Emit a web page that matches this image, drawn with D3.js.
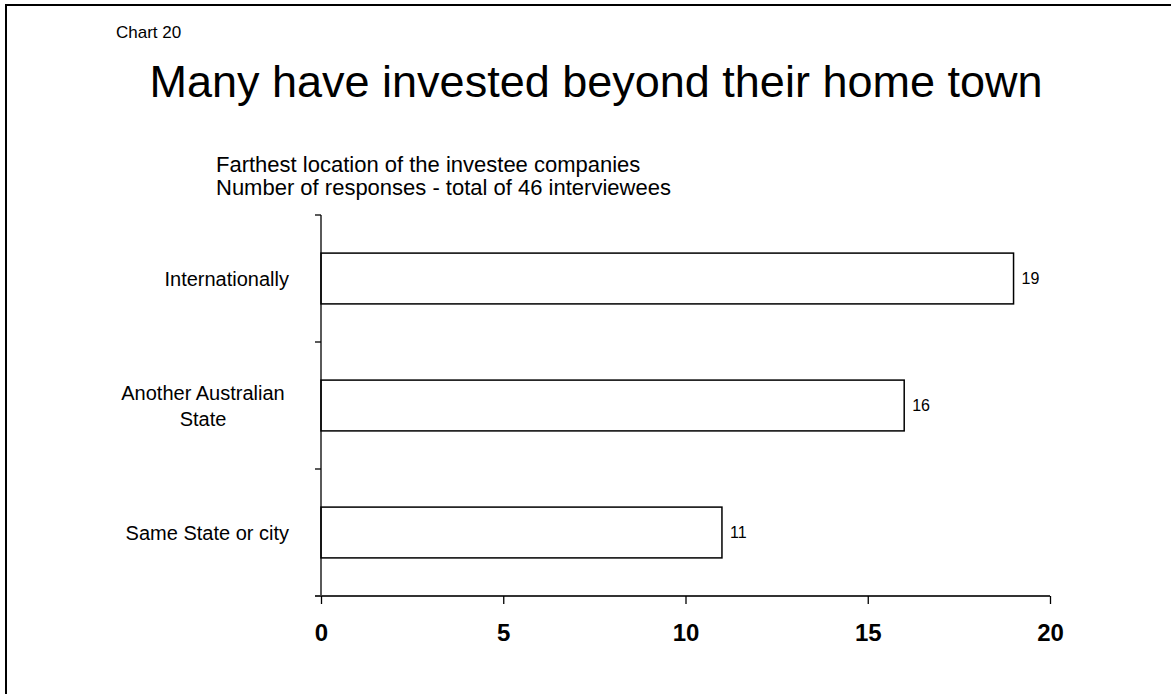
<!DOCTYPE html>
<html>
<head>
<meta charset="utf-8">
<script src="https://cdn.jsdelivr.net/npm/d3@7"></script>
<style>
  html, body { margin: 0; padding: 0; background: #fff; }
  svg { display: block; font-family: "Liberation Sans", Arial, sans-serif; }
</style>
</head>
<body>
<svg id="chart" width="1171" height="694"></svg>
<script>
// Farthest location of investee companies (number of responses)
const categories = ["Internationally", "Another Australian State", "Same State or city"];
const categoryLines = [["Internationally"], ["Another Australian", "State"], ["Same State or city"]];
const responses = [19, 16, 11];
const xTicks = [0, 5, 10, 15, 20];

const svg = d3.select("#chart");
const W = 1171, H = 694;

// Page frame (top and left edges visible)
svg.append("rect")
  .attr("x", 6).attr("y", 5)
  .attr("width", W + 10).attr("height", H + 10)
  .attr("fill", "none").attr("stroke", "#000").attr("stroke-width", 2);

svg.append("text")
  .attr("x", 116).attr("y", 38)
  .attr("font-size", 17)
  .text("Chart 20");

svg.append("text")
  .attr("x", 596).attr("y", 97)
  .attr("text-anchor", "middle")
  .attr("font-size", 45)
  .text("Many have invested beyond their home town");

svg.append("text")
  .attr("x", 216).attr("y", 172)
  .attr("font-size", 22)
  .text("Farthest location of the investee companies");
svg.append("text")
  .attr("x", 216).attr("y", 195)
  .attr("font-size", 22)
  .text("Number of responses - total of 46 interviewees");

const x = d3.scaleLinear().domain([0, 20]).range([321, 1050]);
const y = d3.scaleBand().domain(categories).range([215, 596]).paddingInner(0.6).paddingOuter(0.3);

// Bars
svg.append("g").selectAll("rect")
  .data(categories)
  .join("rect")
  .attr("x", x(0))
  .attr("y", d => y(d))
  .attr("width", (d, i) => x(responses[i]) - x(0))
  .attr("height", y.bandwidth())
  .attr("fill", "#fff")
  .attr("stroke", "#000")
  .attr("stroke-width", 1.5);

// Value labels
svg.append("g").selectAll("text")
  .data(categories)
  .join("text")
  .attr("x", (d, i) => x(responses[i]) + 8)
  .attr("y", d => y(d) + y.bandwidth() / 2 + 5)
  .attr("font-size", 16)
  .text((d, i) => responses[i]);

// Y axis line with ticks at band boundaries
const yAxis = svg.append("g").attr("stroke", "#000").attr("stroke-width", 1.3);
yAxis.append("line").attr("x1", 321).attr("x2", 321).attr("y1", 215).attr("y2", 596);
const bandStep = (596 - 215) / categories.length;
d3.range(categories.length + 1).forEach(i => {
  const yy = 215 + i * bandStep;
  yAxis.append("line").attr("x1", 315).attr("x2", 321).attr("y1", yy).attr("y2", yy);
});

// Category labels
categoryLines.forEach((lines, i) => {
  const cy = y(categories[i]) + y.bandwidth() / 2;
  const lh = 26;
  const t = svg.append("text")
    .attr("font-size", 20)
    .attr("text-anchor", lines.length > 1 ? "middle" : "end");
  lines.forEach((ln, j) => {
    t.append("tspan")
      .attr("x", lines.length > 1 ? 203 : 289)
      .attr("y", cy + 7 + (j - (lines.length - 1) / 2) * lh)
      .text(ln);
  });
});

// X axis
const xAxis = svg.append("g")
  .attr("transform", "translate(0,596)")
  .call(d3.axisBottom(x).tickValues(xTicks).tickSize(8).tickPadding(20).tickSizeOuter(0));
xAxis.select(".domain").attr("d", "M315,0H1050").attr("stroke", "#333").attr("stroke-width", 2);
xAxis.selectAll(".tick line").attr("stroke", "#000").attr("stroke-width", 1.3);
xAxis.selectAll(".tick text")
  .attr("font-size", 24).attr("font-weight", "bold").attr("fill", "#000")
  .attr("font-family", "'Liberation Sans', Arial, sans-serif");
</script>
</body>
</html>
